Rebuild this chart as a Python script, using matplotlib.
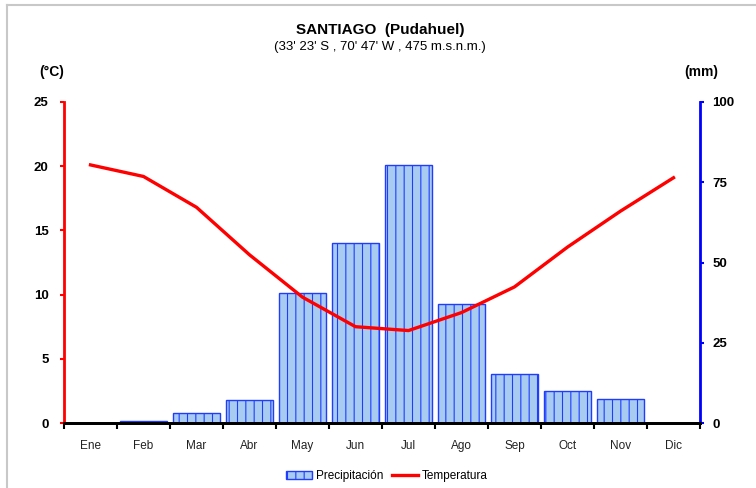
import numpy as np
import matplotlib.pyplot as plt
from matplotlib.lines import Line2D
from matplotlib.patches import Patch

# Climograma de Santiago (Pudahuel)
meses = ['Ene', 'Feb', 'Mar', 'Abr', 'May', 'Jun', 'Jul', 'Ago', 'Sep', 'Oct', 'Nov', 'Dic']
temperatura = [20.1, 19.2, 16.8, 13.1, 9.8, 7.5, 7.2, 8.6, 10.6, 13.7, 16.5, 19.1]
precipitacion = [0.0, 0.7, 3.2, 7.2, 40.6, 56.2, 80.4, 37.1, 15.3, 10.1, 7.6, 0.0]

plt.rcParams['font.family'] = ['Liberation Sans', 'DejaVu Sans']
plt.rcParams['hatch.color'] = '#3050ff'
plt.rcParams['hatch.linewidth'] = 0.8

W, H = 756, 488
fig = plt.figure(figsize=(W / 100, H / 100), dpi=100)

# marco gris exterior
fig.add_artist(Line2D([7 / W, 1], [1 - 5 / H, 1 - 5 / H], color='#c8c8c8', lw=1.5))
fig.add_artist(Line2D([7 / W, 7 / W], [0, 1 - 5 / H], color='#c8c8c8', lw=1.5))

x0, x1, ytop, ybot = 64, 700, 102, 423
ax_t = fig.add_axes([x0 / W, 1 - ybot / H, (x1 - x0) / W, (ybot - ytop) / H])
ax_p = ax_t.twinx()

x = np.arange(len(meses))

# barras de precipitación (eje derecho)
ax_p.bar(x, precipitacion, width=0.88, color='#a8cbf2', edgecolor='#1f3cff',
         linewidth=1.0, hatch='||')
ax_p.set_ylim(0, 100)
ax_p.set_yticks([0, 25, 50, 75, 100])

# temperatura (eje izquierdo), dibujada encima
ax_t.set_zorder(ax_p.get_zorder() + 1)
ax_t.patch.set_visible(False)
ax_t.plot(x, temperatura, color='#ff0000', lw=2.4)
ax_t.set_ylim(0, 25)
ax_t.set_yticks([0, 5, 10, 15, 20, 25])
ax_t.set_xlim(-0.5, 11.5)

ax_t.set_xticks(x)
ax_t.set_xticklabels(meses, fontsize=8.5, color='#222222')
ax_t.set_xticks(np.arange(-0.5, 12, 1), minor=True)
ax_t.tick_params(axis='x', which='major', length=0, pad=12)
ax_t.tick_params(axis='x', which='minor', length=4, width=1.5, color='black')
ax_t.tick_params(axis='y', length=3, width=1.5, color='#ff0000', pad=8)
ax_p.tick_params(axis='y', length=3, width=1.5, color='#0000ff', pad=6)
for lab in ax_t.get_yticklabels() + ax_p.get_yticklabels():
    lab.set_fontweight('bold')
    lab.set_fontsize(9.5)

for a in (ax_t, ax_p):
    a.spines['top'].set_visible(False)
    a.spines['bottom'].set_linewidth(2)
    a.spines['bottom'].set_color('black')
ax_t.spines['left'].set_color('#ff0000')
ax_t.spines['left'].set_linewidth(2)
ax_t.spines['right'].set_visible(False)
ax_p.spines['left'].set_visible(False)
ax_p.spines['right'].set_color('#0000ff')
ax_p.spines['right'].set_linewidth(2)

# títulos
fig.text(380 / W, 1 - 30 / H, 'SANTIAGO  (Pudahuel)', ha='center', va='center',
         fontsize=11, fontweight='bold')
fig.text(380 / W, 1 - 47 / H, "(33' 23' S , 70' 47' W , 475 m.s.n.m.)", ha='center',
         va='center', fontsize=9.5)
fig.text(52 / W, 1 - 72 / H, '(°C)', ha='center', va='center', fontsize=10, fontweight='bold')
fig.text(701 / W, 1 - 72 / H, '(mm)', ha='center', va='center', fontsize=10, fontweight='bold')

handles = [Patch(facecolor='#a8cbf2', edgecolor='#1f3cff', hatch='||', label='Precipitación'),
           Line2D([], [], color='#ff0000', lw=2.4, label='Temperatura')]
fig.legend(handles=handles, loc='center', bbox_to_anchor=(387 / W, 1 - 476 / H), ncol=2,
           frameon=False, fontsize=8.5, handlelength=2.2, handleheight=0.6,
           handletextpad=0.3, columnspacing=0.8)

fig.savefig('out.png', dpi=100)
